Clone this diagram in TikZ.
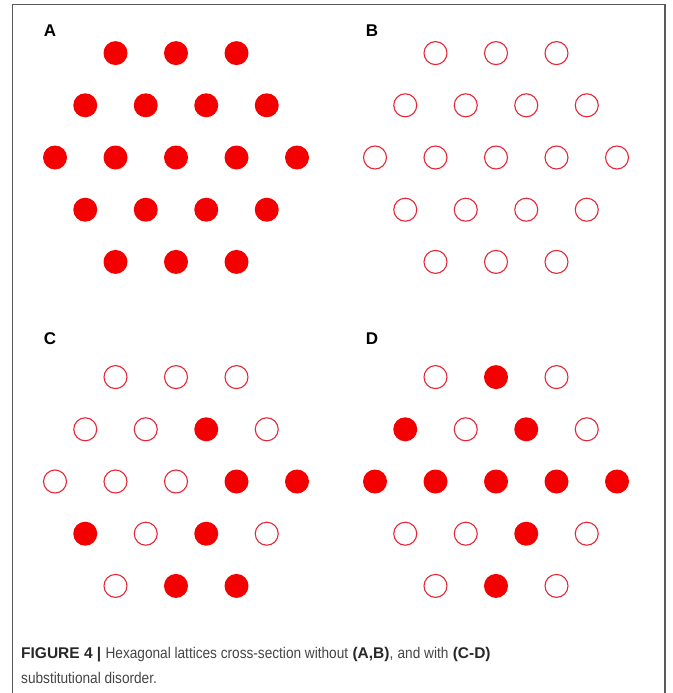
\documentclass[tikz,border=0pt]{standalone}
\usepackage{fontspec}
\setmainfont{Liberation Sans}
\newfontfamily\caplight[FakeStretch=0.88]{Liberation Sans}
\definecolor{latred}{RGB}{245,0,0}
\definecolor{ringred}{RGB}{228,40,56}
\definecolor{captext}{RGB}{40,40,40}
\definecolor{capgray}{RGB}{70,70,70}
\tikzset{
  full/.style={circle, fill=latred, inner sep=0pt, minimum size=24pt},
  hollow/.style={circle, draw=ringred, line width=1.1pt, inner sep=0pt, minimum size=23pt},
  panel/.style={font=\fontsize{17}{17}\selectfont\bfseries},
  capline/.style={anchor=base west, text=captext, inner sep=0pt, font=\fontsize{15.5}{25}\selectfont},
}
\newcommand{\capreg}[1]{{\caplight\color{capgray}#1}}
% one panel: centre x, centre y, 19 flags (1 = filled), name prefix
\newcommand{\hexlattice}[4]{%
  \foreach \r/\n/\s in {0/3/0,1/4/3,2/5/7,3/4/12,4/3/16}{
    \foreach \c in {1,...,\n}{
      \pgfmathtruncatemacro{\k}{\s+\c-1}
      \pgfmathtruncatemacro{\f}{{#3}[\k]}
      \pgfmathsetmacro{\xx}{#1+(\c-1-(\n-1)/2)*60.5}
      \pgfmathsetmacro{\yy}{#2+(\r-2)*52.2}
      \ifnum\f=1
        \node[full] (#4-\k) at (\xx,\yy) {};
      \else
        \node[hollow] (#4-\k) at (\xx,\yy) {};
      \fi
    }
  }
}
\begin{document}
\begin{tikzpicture}[x=1pt, y=-1pt]
  \useasboundingbox (0,0) rectangle (672,693);
  \fill[white] (0,0) rectangle (672,693);
  \draw[gray!70!black, line width=1.2pt] (12.5,693) -- (12.5,4.5) -- (665,4.5) -- (665,693);

  \node[panel] (labA) at (50,31) {A};
  \node[panel] (labB) at (372,31) {B};
  \node[panel] (labC) at (50,339) {C};
  \node[panel] (labD) at (372,339) {D};

  \hexlattice{176}{157.5}{1,1,1, 1,1,1,1, 1,1,1,1,1, 1,1,1,1, 1,1,1}{a}
  \hexlattice{496}{157.5}{0,0,0, 0,0,0,0, 0,0,0,0,0, 0,0,0,0, 0,0,0}{b}
  \hexlattice{176}{481.5}{0,0,0, 0,0,1,0, 0,0,0,1,1, 1,0,1,0, 0,1,1}{c}
  \hexlattice{496}{481.5}{0,1,0, 1,0,1,0, 1,1,1,1,1, 0,0,1,0, 0,1,0}{d}

  \node[capline] (cap1) at (21,658)
    {\textbf{FIGURE 4 |} \capreg{Hexagonal lattices cross-section without} \textbf{(A,B)}\capreg{,} \capreg{and with} \textbf{(C-D)}};
  \node[capline] (cap2) at (21,683) {\capreg{substitutional disorder.}};
\end{tikzpicture}
\end{document}
